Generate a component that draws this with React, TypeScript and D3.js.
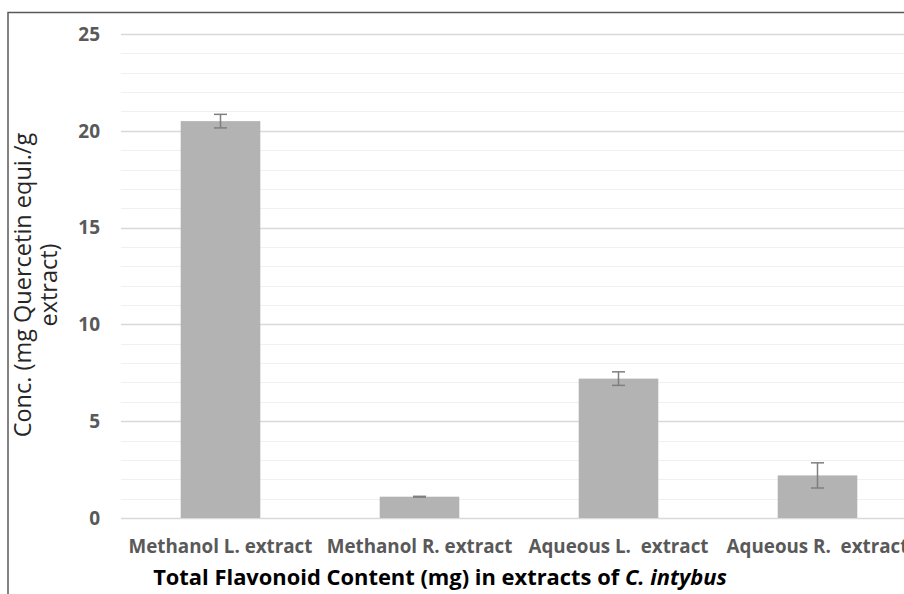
import { useEffect, useRef } from 'react'
import * as d3 from 'd3'

const W = 904
const H = 594

const categories = ['Methanol L. extract', 'Methanol R. extract', 'Aqueous L.  extract', 'Aqueous R.  extract']
const values = [20.5, 1.1, 7.2, 2.2]
const errors = [0.35, 0.02, 0.35, 0.65]
const yTicks = [0, 5, 10, 15, 20, 25]

const FONT = '"Open Sans", Lato, sans-serif'

export default function App() {
  const svgRef = useRef<SVGSVGElement>(null)

  useEffect(() => {
    const svg = svgRef.current
    if (!svg) return
    const sel = d3.select(svg)
    sel.selectAll('*').remove()

    const left = 121, right = 917, top = 34, bottom = 518

    const x = d3.scaleBand<string>().domain(categories).range([left, right])
      .paddingInner(0.6).paddingOuter(0.3)
    const y = d3.scaleLinear().domain([0, 25]).range([bottom, top])

    sel.append('rect').attr('width', W).attr('height', H).attr('fill', '#fff')

    // minor grid
    sel.append('g').selectAll('line')
      .data(d3.range(0, 26).filter(v => v % 5 !== 0))
      .join('line')
      .attr('x1', left).attr('x2', W)
      .attr('y1', d => Math.round(y(d)) + 0.5).attr('y2', d => Math.round(y(d)) + 0.5)
      .attr('stroke', '#f0f0f0').attr('stroke-width', 1.2)

    // major grid
    sel.append('g').selectAll('line')
      .data(yTicks)
      .join('line')
      .attr('x1', left).attr('x2', W)
      .attr('y1', d => Math.round(y(d)) + 0.5).attr('y2', d => Math.round(y(d)) + 0.5)
      .attr('stroke', '#d9d9d9').attr('stroke-width', 1.3)

    // bars
    sel.append('g').selectAll('rect')
      .data(categories)
      .join('rect')
      .attr('x', d => x(d)!)
      .attr('width', x.bandwidth())
      .attr('y', (_, i) => y(values[i]))
      .attr('height', (_, i) => bottom - y(values[i]))
      .attr('fill', '#b3b3b3')

    // error bars
    const eg = sel.append('g').attr('stroke', '#7f7f7f').attr('stroke-width', 1.5)
    categories.forEach((c, i) => {
      const cx = x(c)! + x.bandwidth() / 2
      const y1 = y(values[i] + errors[i]), y2 = y(values[i] - errors[i])
      eg.append('line').attr('x1', cx).attr('x2', cx).attr('y1', y1).attr('y2', y2)
      eg.append('line').attr('x1', cx - 6.5).attr('x2', cx + 6.5).attr('y1', y1).attr('y2', y1)
      eg.append('line').attr('x1', cx - 6.5).attr('x2', cx + 6.5).attr('y1', y2).attr('y2', y2)
    })

    // y tick labels
    sel.append('g').selectAll('text')
      .data(yTicks)
      .join('text')
      .attr('x', 100).attr('y', d => y(d))
      .attr('dy', '0.36em')
      .attr('text-anchor', 'end')
      .attr('font-family', FONT).attr('font-weight', 700).attr('font-size', 19)
      .attr('fill', '#595959')
      .text(d => d)

    // x tick labels
    sel.append('g').selectAll('text')
      .data(categories)
      .join('text')
      .attr('x', d => x(d)! + x.bandwidth() / 2).attr('y', 553)
      .attr('text-anchor', 'middle')
      .attr('font-family', FONT).attr('font-weight', 700).attr('font-size', 18.8)
      .attr('fill', '#595959')
      .attr('xml:space', 'preserve')
      .style('white-space', 'pre')
      .text(d => d)

    // x title
    const t = sel.append('text')
      .attr('x', 440).attr('y', 585)
      .attr('text-anchor', 'middle')
      .attr('font-family', FONT).attr('font-weight', 700).attr('font-size', 21.9)
      .attr('fill', '#000')
    t.append('tspan').text('Total Flavonoid Content (mg) in extracts of ')
    t.append('tspan').attr('font-style', 'italic').text('C. intybus')

    // y title
    const yt = sel.append('text')
      .attr('transform', 'translate(0,285) rotate(-90)')
      .attr('text-anchor', 'middle')
      .attr('font-family', FONT).attr('font-size', 23.5)
      .attr('fill', '#262626')
    yt.append('tspan').attr('x', 0).attr('y', 31).text('Conc. (mg Quercetin equi./g')
    yt.append('tspan').attr('x', 0).attr('y', 57).text('extract)')

    // frame
    sel.append('path')
      .attr('d', `M8,${H} L8,12.5 L${W},12.5`)
      .attr('fill', 'none').attr('stroke', '#595959').attr('stroke-width', 1.5)
  }, [])

  return (
    <div style={{ position: 'absolute', left: 0, top: 0 }}>
      <svg ref={svgRef} width={W} height={H} style={{ display: 'block' }} />
    </div>
  )
}
